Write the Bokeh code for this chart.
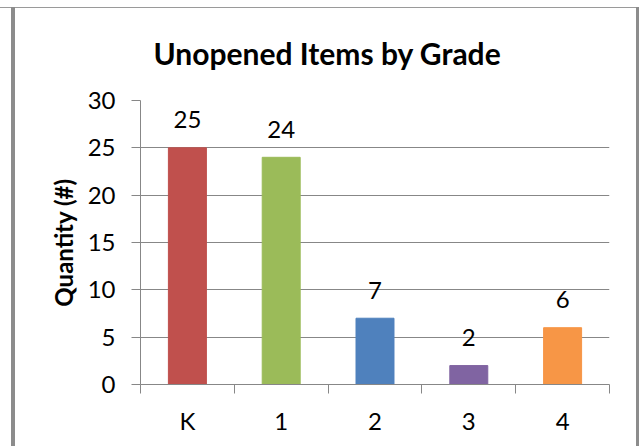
from bokeh.plotting import figure
from bokeh.models import Range1d, FixedTicker, ColumnDataSource, InlineStyleSheet
from bokeh.core.properties import value
from bokeh.embed import file_html
from bokeh.resources import INLINE

# Data
grades = ["K", "1", "2", "3", "4"]
quantities = [25, 24, 7, 2, 6]
bar_colors = ["#C0504D", "#9BBB59", "#4F81BD", "#8064A2", "#F79646"]
y_ticks = [0, 5, 10, 15, 20, 25, 30]
title_text = "Unopened Items by Grade"
y_label = "Quantity (#)"

FONT = "Lato"
GRID = "#878787"

xs = [i + 0.5 for i in range(len(grades))]
src = ColumnDataSource(dict(x=xs, y=quantities, color=bar_colors,
                            label=[str(q) for q in quantities]))

border_css = """
:host::before { content: ""; position: absolute; left: 0px; top: 7px; width: 639px;
  height: 0px; border-top: 1px solid #9a9a9a; z-index: 100; pointer-events: none; }
:host::after { content: ""; position: absolute; left: 11px; top: 7px; width: 628px;
  height: 439px; box-sizing: border-box; border-left: 4px solid #8c8c8c;
  border-right: 3px solid #8c8c8c; z-index: 100; pointer-events: none; }
"""

p = figure(width=639, height=446, output_backend="svg", toolbar_location=None,
           x_range=Range1d(0, len(grades)), y_range=Range1d(0, 30),
           min_border_left=140, min_border_right=30, min_border_top=100,
           min_border_bottom=62,
           stylesheets=[InlineStyleSheet(css=border_css)])
p.outline_line_color = None
p.background_fill_color = "white"
p.border_fill_color = "white"

# title
p.title.text = title_text
p.title.text_font = FONT
p.title.text_font_style = "bold"
p.title.text_font_size = "30px"
p.title.text_color = "black"
p.title.align = "left"
p.title.offset = 13
p.title.standoff = 60

# bars
p.vbar(x="x", top="y", width=0.405, color="color", source=src)

# data labels
p.text(x="x", y="y", text="label", source=src, y_offset=-28,
       text_align="center", text_baseline="alphabetic",
       text_font=value(FONT), text_font_size="24px", text_color="black")

# y axis
p.yaxis.ticker = FixedTicker(ticks=y_ticks)
p.yaxis.major_tick_out = 9
p.yaxis.major_tick_in = 0
p.yaxis.minor_tick_out = 0
p.yaxis.minor_tick_in = 0
p.yaxis.axis_line_color = GRID
p.yaxis.major_tick_line_color = GRID
p.yaxis.major_label_text_font = FONT
p.yaxis.major_label_text_font_size = "24px"
p.yaxis.major_label_text_color = "black"
p.yaxis.major_label_standoff = 16
p.yaxis.axis_label = y_label
p.yaxis.axis_label_text_font = FONT
p.yaxis.axis_label_text_font_style = "bold"
p.yaxis.axis_label_text_font_size = "24px"
p.yaxis.axis_label_text_color = "black"
p.yaxis.axis_label_standoff = 7

# x axis: labels at centres, ticks at boundaries (minor)
p.xaxis.ticker = FixedTicker(ticks=xs, minor_ticks=list(range(len(grades) + 1)))
p.xaxis.major_label_overrides = {x: g for x, g in zip(xs, grades)}
p.xaxis.major_tick_out = 0
p.xaxis.major_tick_in = 0
p.xaxis.minor_tick_out = 9
p.xaxis.minor_tick_in = 0
p.xaxis.minor_tick_line_color = GRID
p.xaxis.axis_line_color = GRID
p.xaxis.major_label_text_font = FONT
p.xaxis.major_label_text_font_size = "24px"
p.xaxis.major_label_text_color = "black"
p.xaxis.major_label_standoff = 12

p.xgrid.grid_line_color = None
p.ygrid.ticker = FixedTicker(ticks=y_ticks)
p.ygrid.grid_line_color = GRID
p.ygrid.grid_line_width = 1

open("out.html", "w").write(file_html(p, INLINE))
